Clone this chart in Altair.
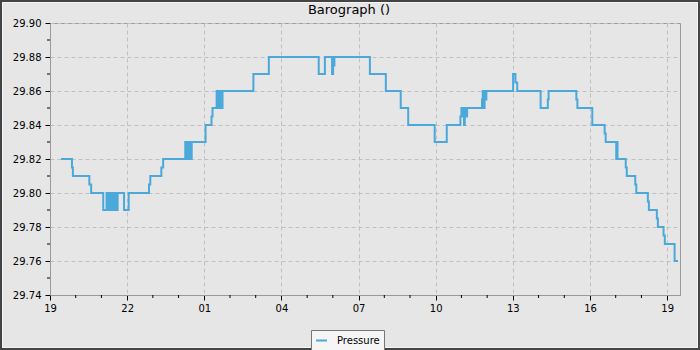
import altair as alt
import pandas as pd

# hours after 19:00 on the first day, and pressure (inHg)
hours = [0.43, 0.855, 0.89, 1.53, 1.60, 2.07, 2.20, 2.24, 2.30, 2.33,
         2.38, 2.41, 2.46, 2.49, 2.55, 2.58, 2.63, 2.88, 3.06, 3.85,
         3.90, 4.33, 4.40, 5.26, 5.30, 5.34, 5.38, 5.43, 5.47, 5.51,
         6.05, 6.28, 6.32, 6.48, 6.54, 6.60, 6.63, 6.71, 7.91, 8.51,
         10.45, 10.69, 10.97, 11.01, 11.03, 11.06, 12.44, 13.06, 13.64, 13.93,
         14.96, 15.43, 15.96, 16.00, 16.03, 16.06, 16.10, 16.13, 16.17, 16.22,
         16.80, 16.83, 16.86, 16.90, 16.93, 16.97, 18.01, 18.10, 18.17, 19.08,
         19.36, 19.39, 20.47, 20.51, 21.09, 21.57, 21.61, 22.02, 22.04, 22.07,
         22.39, 22.43, 22.76, 22.80, 23.25, 23.29, 23.60, 23.64, 23.86, 23.91,
         24.29, 24.42]
pressure = [29.82, 29.815, 29.81, 29.805, 29.80, 29.79, 29.80, 29.79, 29.80, 29.79,
            29.80, 29.79, 29.80, 29.79, 29.80, 29.79, 29.80, 29.79, 29.80, 29.805,
            29.81, 29.815, 29.82, 29.83, 29.82, 29.83, 29.82, 29.83, 29.82, 29.83,
            29.84, 29.845, 29.85, 29.86, 29.85, 29.86, 29.85, 29.86, 29.87, 29.88,
            29.87, 29.88, 29.87, 29.88, 29.875, 29.88, 29.87, 29.86, 29.85, 29.84,
            29.83, 29.84, 29.845, 29.85, 29.845, 29.85, 29.84, 29.85, 29.845, 29.85,
            29.855, 29.86, 29.85, 29.86, 29.855, 29.86, 29.87, 29.865, 29.86, 29.85,
            29.855, 29.86, 29.855, 29.85, 29.84, 29.835, 29.83, 29.82, 29.83, 29.82,
            29.815, 29.81, 29.805, 29.80, 29.795, 29.79, 29.785, 29.78, 29.775, 29.77,
            29.76, 29.76]
series_name = "Pressure"
start_hour = 19
x_major = [0, 3, 6, 9, 12, 15, 18, 21, 24]
x_minor = [1, 2, 4, 5, 7, 8, 10, 11, 13, 14, 16, 17, 19, 20, 22, 23]
y_major = [29.74, 29.76, 29.78, 29.80, 29.82, 29.84, 29.86, 29.88, 29.90]
y_minor = [29.75, 29.77, 29.79, 29.81, 29.83, 29.85, 29.87, 29.89]

W, H = 630, 272
BLUE = "#4aa8db"
FONT = "DejaVu Sans"

df = pd.DataFrame({"h": hours, "p": pressure, "series": series_name})

xscale = alt.Scale(domain=[0, 24.5], nice=False, zero=False)
yscale = alt.Scale(domain=[29.74, 29.90], nice=False, zero=False)

label_expr = ("(((%d + datum.value) %% 24) < 10 ? '0' : '') + ((%d + datum.value) %% 24)"
              % (start_hour, start_hour))
x_axis = alt.Axis(values=x_major, labelExpr=label_expr, labelOverlap=False, labelFlush=False)
y_axis = alt.Axis(values=y_major, format=".2f", labelOverlap=False, labelFlush=False)

line = alt.Chart(df).mark_line(interpolate="step-after", strokeWidth=2).encode(
    x=alt.X("h:Q", scale=xscale, title=None, axis=x_axis),
    y=alt.Y("p:Q", scale=yscale, title=None, axis=y_axis),
    color=alt.Color("series:N", scale=alt.Scale(range=[BLUE]),
                    legend=alt.Legend(orient="none", legendX=261, legendY=307,
                                      title=None, fillColor="#f5f5f5",
                                      strokeColor="#777777", padding=4,
                                      symbolType="stroke", symbolSize=121,
                                      symbolStrokeWidth=2, labelOffset=9,
                                      labelFontSize=10, labelFont=FONT,
                                      labelColor="#000000")),
)

xminor = alt.Chart(pd.DataFrame({"h": x_minor})).mark_rule(color="#000000", strokeWidth=1).encode(
    x=alt.X("h:Q", scale=xscale, title=None, axis=x_axis), y=alt.value(H), y2=alt.value(H + 3))
yminor = alt.Chart(pd.DataFrame({"p": y_minor})).mark_rule(color="#000000", strokeWidth=1).encode(
    y=alt.Y("p:Q", scale=yscale, title=None, axis=y_axis), x=alt.value(-3), x2=alt.value(0))

frame = alt.Chart(alt.Data(values=[{"a": 1}])).mark_rect(
    filled=False, stroke="#444444", strokeWidth=4).encode(
    x=alt.value(-50), x2=alt.value(650), y=alt.value(-23), y2=alt.value(327))
inner = alt.Chart(alt.Data(values=[{"a": 1}])).mark_rect(
    filled=False, stroke="#f4f4f4", strokeWidth=1).encode(
    x=alt.value(-47.5), x2=alt.value(647.5), y=alt.value(-20.5), y2=alt.value(324.5))

chart = alt.layer(line, xminor, yminor, frame, inner).properties(
    width=W, height=H,
    title=alt.Title("Barograph ()", fontSize=13, font=FONT, fontWeight="normal",
                    color="#000000", offset=5, dx=-16, dy=24, anchor="middle"),
    padding={"left": 50, "top": 23, "right": 20, "bottom": 55},
    autosize=alt.AutoSizeParams(type="none"),
    background="#e6e6e6",
).configure_view(
    stroke="#999999", strokeWidth=1, fill="#e6e6e6"
).configure_axis(
    domainColor="#999999", tickColor="#000000", tickSize=5,
    labelColor="#000000", labelFont=FONT, labelFontSize=10,
    gridColor="#c0c0c0", gridDash=[4, 3], gridWidth=1,
).configure_axisX(labelPadding=3).configure_axisY(labelPadding=4)

chart.save("out.html", embed_options={"renderer": "svg", "actions": False})
